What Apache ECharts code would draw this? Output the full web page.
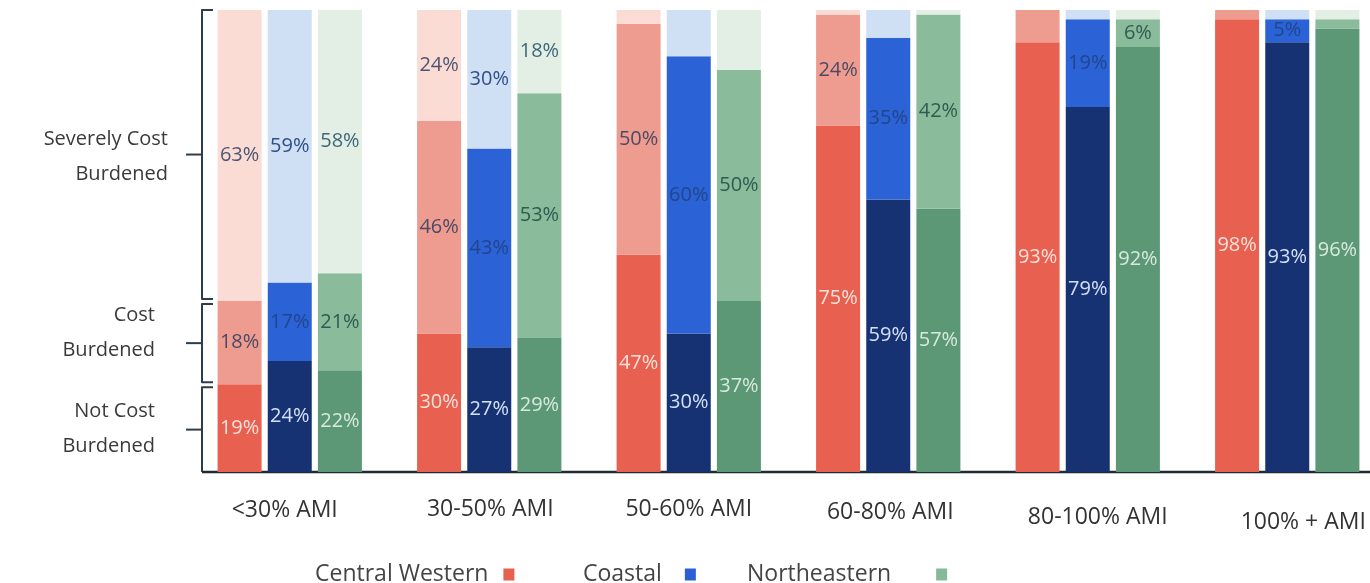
<!DOCTYPE html>
<html>
<head>
<meta charset="utf-8">
<title>Housing cost burden by income band and region</title>
<script src="https://cdn.jsdelivr.net/npm/echarts@6/dist/echarts.min.js"></script>
<style>
  html, body { margin: 0; padding: 0; background: #ffffff; overflow: hidden; }
  #chart { width: 1400px; height: 583px; }
</style>
</head>
<body>
<div id="chart"></div>
<script>
// Income bands along the x axis
const categories = ['<30% AMI', '30-50% AMI', '50-60% AMI', '60-80% AMI', '80-100% AMI', '100% + AMI'];

// Regions (legend entries)
const regions = ['Central Western', 'Coastal', 'Northeastern'];

// Burden levels, bottom to top of each stacked bar
const burdenLevels = ['Not Cost\nBurdened', 'Cost\nBurdened', 'Severely Cost\nBurdened'];

// Share of households (%) per income band
const cwNot    = [19, 30, 47, 75, 93, 98];
const cwCost   = [18, 46, 50, 24, 7, 2];
const cwSevere = [63, 24, 3, 1, 0, 0];

const coNot    = [24, 27, 30, 59, 79, 93];
const coCost   = [17, 43, 60, 35, 19, 5];
const coSevere = [59, 30, 10, 6, 2, 2];

const neNot    = [22, 29, 37, 57, 92, 96];
const neCost   = [21, 53, 50, 42, 6, 2];
const neSevere = [58, 18, 13, 1, 2, 2];

// Bands (by index) whose segment carries no value label
const cwCostNoLabel   = [4, 5];
const cwSevereNoLabel = [2, 3, 4, 5];
const coSevereNoLabel = [2, 3, 4, 5];
const neCostNoLabel   = [5];
const neSevereNoLabel = [2, 3, 4, 5];

const palette = {
  'Central Western': { fill: ['#E8604F', '#EF9C90', '#FADCD5'], text: ['#FCE0DA', '#4B4A66', '#4E5572'] },
  'Coastal':         { fill: ['#173272', '#2B62D6', '#CFDFF4'], text: ['#D3E0F7', '#22468C', '#2F4F8A'] },
  'Northeastern':    { fill: ['#5C9776', '#8ABC9B', '#E3EFE5'], text: ['#D6EBDD', '#2E5C50', '#3E6878'] }
};
const legendColors = ['#E8604F', '#2B5FD6', '#86B99A'];

const stacks = [
  { region: 'Central Western', key: 'cw', levels: [cwNot, cwCost, cwSevere], hidden: [[], cwCostNoLabel, cwSevereNoLabel] },
  { region: 'Coastal',         key: 'co', levels: [coNot, coCost, coSevere], hidden: [[], [], coSevereNoLabel] },
  { region: 'Northeastern',    key: 'ne', levels: [neNot, neCost, neSevere], hidden: [[], neCostNoLabel, neSevereNoLabel] }
];

const FONT = '"Open Sans", "Noto Sans", sans-serif';

const series = [];
stacks.forEach(s => {
  s.levels.forEach((vals, li) => {
    series.push({
      name: s.region,
      type: 'bar',
      stack: s.key,
      barWidth: 44,
      barGap: '14%',
      itemStyle: { color: palette[s.region].fill[li] },
      label: {
        show: true,
        position: 'inside',
        formatter: '{c}%',
        fontFamily: FONT,
        fontSize: 20,
        color: palette[s.region].text[li]
      },
      emphasis: { disabled: true },
      data: vals.map((v, i) => s.hidden[li].indexOf(i) >= 0
        ? { value: v, label: { show: false } }
        : v)
    });
  });
});

// Per-band nudges for the axis text
const labelShiftTop   = [1, 0, 0, 3, 8, 13];
const labelShiftLeft  = [0, 2, 0, 4, 20, 32];
const labelShiftRight = [10, 0, 0, 0, 0, 0];

// Legend entries are laid out one by one along the bottom edge
const legendLeft = [310, 578, 742];
const legendTextPad = [10, 18, 40];

// Vertical nudge of each brace caption relative to its brace tip
const captionNudge = [-1, -10, 2];

const chart = echarts.init(document.getElementById('chart'), null, { renderer: 'canvas' });

const option = {
  animation: false,
  backgroundColor: '#ffffff',
  grid: { left: 190, top: 10, width: 1197, height: 462, containLabel: false },
  xAxis: {
    type: 'category',
    data: categories.map((c, i) => ({
      value: c,
      textStyle: { padding: [labelShiftTop[i], labelShiftRight[i], 0, labelShiftLeft[i]] }
    })),
    axisLine: { show: false },
    axisTick: { show: false },
    axisLabel: { margin: 26, fontFamily: FONT, fontSize: 23, color: '#333333' }
  },
  yAxis: {
    type: 'value',
    min: 0,
    max: 100,
    show: false,
    splitLine: { show: false }
  },
  legend: regions.map((r, i) => ({
    top: 558,
    left: legendLeft[i],
    align: 'right',
    itemWidth: 11,
    itemHeight: 12,
    icon: 'rect',
    selectedMode: false,
    textStyle: { fontFamily: FONT, fontSize: 23, color: '#444444', padding: [0, legendTextPad[i], 0, 0] },
    data: [{ name: r, itemStyle: { color: legendColors[i] } }]
  })),
  series: series
};

chart.setOption(option);

// Brace-style y axis keyed to the <30% AMI Central Western segments
function drawBraces() {
  const yPx = v => chart.convertToPixel({ yAxisIndex: 0 }, v);
  const bounds = [0, cwNot[0], cwNot[0] + cwCost[0], 100];
  const xV = 202, xR = 213, xL = 186;
  const stroke = { stroke: '#2E3D4B', lineWidth: 2, fill: null, lineJoin: 'round' };
  const elements = [];
  for (let i = 0; i < 3; i++) {
    const yBot = yPx(bounds[i]) - (i === 0 ? 0 : 2);
    const yTop = yPx(bounds[i + 1]) + (i === 2 ? 0 : 3);
    const yMid = (yBot + yTop) / 2;
    elements.push({
      type: 'polyline',
      shape: { points: [[xR, yTop], [xV, yTop], [xV, yBot], [i === 0 ? xV : xR, yBot]] },
      style: stroke
    });
    elements.push({
      type: 'line',
      shape: { x1: xL, y1: yMid, x2: xV, y2: yMid },
      style: stroke
    });
    elements.push({
      type: 'text',
      x: i === 2 ? 168 : 155,
      y: yMid + captionNudge[i],
      style: {
        text: burdenLevels[i],
        fontFamily: FONT,
        fontSize: 20,
        lineHeight: 35,
        fill: '#3A3A3A',
        align: 'right',
        verticalAlign: 'middle'
      }
    });
  }
  // baseline running under all bars
  const y0 = yPx(0);
  elements.push({
    type: 'line',
    shape: { x1: xV, y1: y0, x2: 1400, y2: y0 },
    style: { stroke: '#1F2A33', lineWidth: 2.5 }
  });
  chart.setOption({ graphic: { elements: elements } });
}
drawBraces();
</script>
</body>
</html>
